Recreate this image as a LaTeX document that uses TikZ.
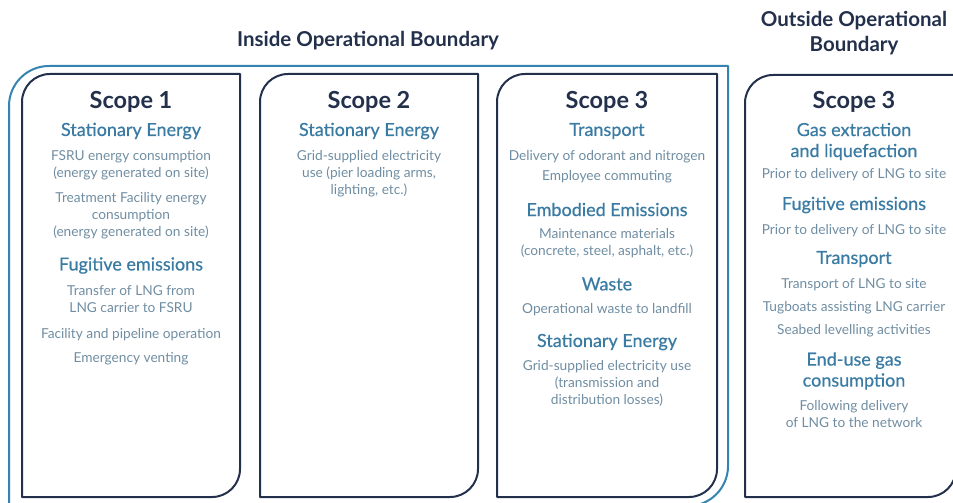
\documentclass[tikz,border=0pt]{standalone}
\usepackage{fontspec}
\setmainfont{Lato}
\newfontfamily\medfont[FakeBold=0.6]{Lato}
\usetikzlibrary{positioning}
\definecolor{navy}{HTML}{23304B}
\definecolor{boundblue}{HTML}{3483B0}
\definecolor{headblue}{HTML}{3A7BA3}
\definecolor{bodygrey}{HTML}{6F8DA2}
% box with rounded top-left and bottom-right corners
% #1 style, #2 left, #3 top, #4 right, #5 bottom, #6 radius
\newcommand{\cornerbox}[6]{%
  \draw[#1] (#2,#5) -- (#2,#3+#6) arc[start angle=180,end angle=270,radius=#6]
    -- (#4,#3) -- (#4,#5-#6) arc[start angle=0,end angle=90,radius=#6] -- cycle;}
\tikzset{%
  outer/.style = {draw=boundblue,line width=2pt,line join=round},
  sbox/.style = {draw=navy,line width=2pt,line join=round},
  ttl/.style = {font=\fontsize{20.5}{25}\selectfont\bfseries,text=navy,align=center},
  hd/.style = {font=\fontsize{23.5}{26}\selectfont\bfseries,text=navy},
  sub/.style = {font=\fontsize{18}{21}\medfont,text=headblue,align=center},
  txt/.style = {font=\fontsize{13.7}{17}\selectfont,text=bodygrey,align=center}
}

\begin{document}
\begin{tikzpicture}[x=1pt,y=-1pt]
    \useasboundingbox (0,0) rectangle (953,503);
    \clip (0,0) rectangle (953,503);
    % boundaries
    \cornerbox{outer}{9}{66}{728}{506}{40}
    \cornerbox{sbox}{22}{74}{240}{497}{28}
    \cornerbox{sbox}{260}{74}{478}{497}{28}
    \cornerbox{sbox}{497}{74}{717}{497}{28}
    \cornerbox{sbox}{745}{75}{956}{497}{28}
    \node[ttl] (inside) at (368,41) {Inside Operational Boundary};
    \node[ttl] (outside) at (854,33) {Outside Operational\\Boundary};
    % scope 1
    \node[hd] (s1) at (131,102) {Scope 1};
    \node[sub] (s1se) at (131,131) {Stationary Energy};
    \node[txt] (s1fsru) at (131,165) {FSRU energy consumption\\(energy generated on site)};
    \node[txt] (s1treat) at (131,215.5) {Treatment Facility energy\\consumption\\(energy generated on site)};
    \node[sub] (s1fe) at (131,265.5) {Fugitive emissions};
    \node[txt] (s1lng) at (131,299) {Transfer of LNG from\\LNG carrier to FSRU};
    \node[txt] (s1pipe) at (131,334.5) {Facility and pipeline operation};
    \node[txt] (s1vent) at (131,358.5) {Emergency venting};
    % scope 2
    \node[hd] (s2) at (369,102) {Scope 2};
    \node[sub] (s2se) at (369,131) {Stationary Energy};
    \node[txt] (s2grid) at (369,173.5) {Grid-supplied electricity\\use (pier loading arms,\\lighting, etc.)};
    % scope 3 inside
    \node[hd] (s3) at (607,102) {Scope 3};
    \node[sub] (s3tr) at (607,131) {Transport};
    \node[txt] (s3odor) at (607,156.5) {Delivery of odorant and nitrogen};
    \node[txt] (s3comm) at (607,176.5) {Employee commuting};
    \node[sub] (s3emb) at (607,209.5) {Embodied Emissions};
    \node[txt] (s3mat) at (607,243) {Maintenance materials\\(concrete, steel, asphalt, etc.)};
    \node[sub] (s3waste) at (607,284) {Waste};
    \node[txt] (s3land) at (607,309.5) {Operational waste to landfill};
    \node[sub] (s3se) at (607,342) {Stationary Energy};
    \node[txt] (s3grid) at (607,383.5) {Grid-supplied electricity use\\(transmission and\\distribution losses)};
    % scope 3 outside
    \node[hd] (o3) at (854,102) {Scope 3};
    \node[sub] (o3gas) at (854,141.5) {Gas extraction\\and liquefaction};
    \node[txt] (o3prior) at (854,174.5) {Prior to delivery of LNG to site};
    \node[sub] (o3fe) at (854,205) {Fugitive emissions};
    \node[txt] (o3prior2) at (854,230.5) {Prior to delivery of LNG to site};
    \node[sub] (o3tr) at (854,259) {Transport};
    \node[txt] (o3lng) at (854,284.5) {Transport of LNG to site};
    \node[txt] (o3tug) at (854,307.5) {Tugboats assisting LNG carrier};
    \node[txt] (o3sea) at (854,330.5) {Seabed levelling activities};
    \node[sub] (o3end) at (854,371) {End-use gas\\consumption};
    \node[txt] (o3net) at (854,414) {Following delivery\\of LNG to the network};
\end{tikzpicture}
\end{document}
